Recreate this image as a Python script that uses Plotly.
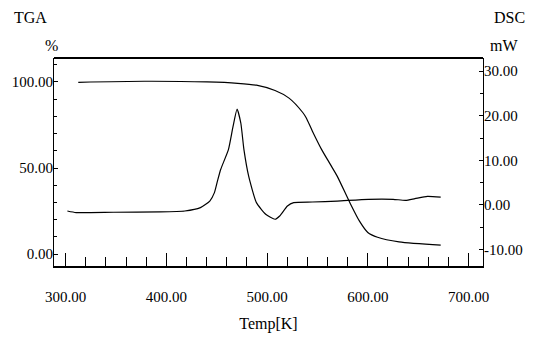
import plotly.graph_objects as go

# TGA curve (temperature K, weight %)
tga_temp = [312.5, 378.0, 440.3, 470.8, 489.4, 507.9, 521.8, 535.6, 538.8, 545.0,
            554.2, 562.2, 569.6, 582.0, 591.9, 600.0, 609.7, 631.0, 672.4]
tga_weight = [99.8, 100.4, 100.0, 99.2, 98.1, 95.0, 90.6, 82.1, 79.2, 71.4,
              60.7, 52.7, 45.3, 30.1, 19.0, 12.6, 9.8, 7.1, 5.2]

# DSC curve (temperature K, heat flow mW)
dsc_temp = [301.7, 310.4, 347.4, 393.7, 418.3, 433.8, 443.1, 447.7, 450.7, 453.9,
            461.6, 466.2, 470.2, 473.9, 477.0, 481.7, 489.4, 498.6, 507.9, 512.5,
            520.2, 526.4, 544.9, 569.6, 600.5, 625.2, 637.5, 646.8, 659.1, 672.4]
dsc_heat = [-1.36, -1.72, -1.65, -1.58, -1.36, -0.60, 0.87, 2.75, 5.33, 7.95,
            12.41, 17.61, 21.5, 18.37, 12.41, 6.45, 0.51, -2.10, -3.21, -2.48,
            -0.25, 0.51, 0.65, 0.87, 1.25, 1.25, 1.03, 1.41, 1.92, 1.76]

x_ticks = [300, 400, 500, 600, 700]
left_ticks = [0, 50, 100]
right_ticks = [-10, 0, 10, 20, 30]

FONT = "Times New Roman, Liberation Serif, serif"
TICKFONT = dict(family=FONT, size=15, color="black")

fig = go.Figure()
fig.add_trace(go.Scatter(x=tga_temp, y=tga_weight, mode="lines", line=dict(color="black", width=1.2, shape="spline", smoothing=0.7), yaxis="y", showlegend=False))
fig.add_trace(go.Scatter(x=dsc_temp, y=dsc_heat, mode="lines", line=dict(color="black", width=1.2, shape="spline", smoothing=0.5), yaxis="y2", showlegend=False))

fig.update_layout(
    width=535, height=342,
    margin=dict(l=43, r=32, t=58, b=75),
    paper_bgcolor="white", plot_bgcolor="white",
    font=dict(family=FONT, size=15, color="black"),
    xaxis=dict(
        range=[288.4, 714.4], tickvals=x_ticks, ticktext=[f"{v:.2f}" for v in x_ticks],
        tickfont=TICKFONT,
        ticks="inside", ticklen=13, tickcolor="black", tickwidth=1,
        minor=dict(dtick=20, tick0=300, ticks="inside", ticklen=9, tickcolor="black", tickwidth=1, showgrid=False),
        showgrid=False, zeroline=False, showline=True, linecolor="black", linewidth=1.5, mirror=False,
        title=dict(text="Temp[K]", font=dict(family=FONT, size=16), standoff=14),
        ticklabelstandoff=16,
    ),
    yaxis=dict(
        range=[-6.9, 113.9], tickvals=left_ticks, ticktext=[f"{v:.2f}" for v in left_ticks],
        tickfont=TICKFONT,
        ticks="inside", ticklen=4, tickcolor="black",
        minor=dict(dtick=10, tick0=0, ticks="inside", ticklen=3, tickcolor="black", showgrid=False),
        showgrid=False, zeroline=False, showline=True, linecolor="black", linewidth=1.2,
        ticklabelstandoff=-3,
    ),
    yaxis2=dict(
        range=[-13.7, 32.95], tickvals=right_ticks, ticktext=[f"{v:.2f}" for v in right_ticks],
        tickfont=TICKFONT,
        overlaying="y", side="right", anchor="x",
        ticks="inside", ticklen=4, tickcolor="black",
        minor=dict(dtick=5, tick0=0, ticks="inside", ticklen=3, tickcolor="black", showgrid=False),
        showgrid=False, zeroline=False, showline=True, linecolor="black", linewidth=1.2,
        ticklabelstandoff=-3,
    ),
    shapes=[dict(type="line", xref="paper", yref="paper", x0=0, x1=1, y0=1, y1=1,
                 line=dict(color="black", width=2))],
    annotations=[
        dict(text="TGA", xref="paper", yref="paper", x=-0.055, y=1.0, yshift=41, showarrow=False,
             xanchor="center", yanchor="middle", font=dict(family=FONT, size=16)),
        dict(text="%", xref="paper", yref="paper", x=-0.006, y=1.0, yshift=13, showarrow=False,
             xanchor="center", yanchor="middle", font=dict(family=FONT, size=16)),
        dict(text="DSC", xref="paper", yref="paper", x=1.02, y=1.0, yshift=41, showarrow=False,
             xanchor="left", yanchor="middle", font=dict(family=FONT, size=16)),
        dict(text="mW", xref="paper", yref="paper", x=1.012, y=1.0, yshift=13, showarrow=False,
             xanchor="left", yanchor="middle", font=dict(family=FONT, size=16)),
    ],
)

fig.write_html("out.html")
